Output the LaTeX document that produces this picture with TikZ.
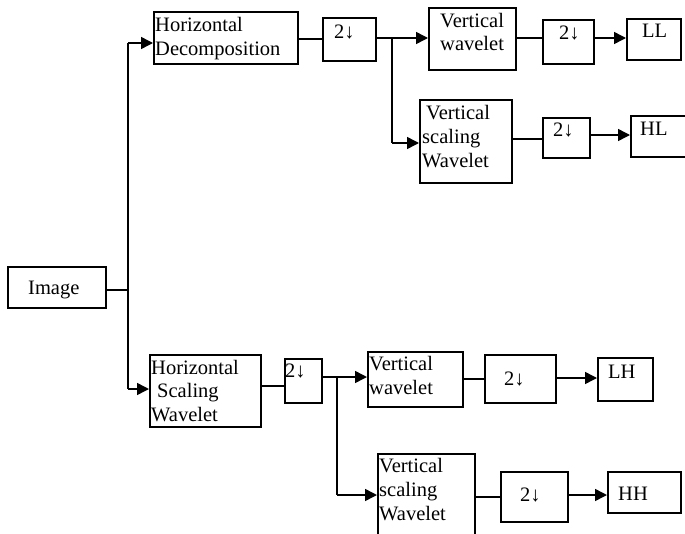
\documentclass[tikz,border=0pt]{standalone}
\usepackage{fontspec}
\setmainfont{Liberation Serif}
\usetikzlibrary{arrows.meta}
\newcommand\mybox[5]{\node[box, minimum width=#4pt, minimum height=#5pt] (#1) at (#2,#3) {};}
\newcommand\lines[1]{\begin{tabular}[t]{@{}l@{}}#1\end{tabular}}
\begin{document}
\begin{tikzpicture}[x=1pt,y=-1pt,
  box/.style={draw, line width=1.5pt, inner sep=0pt, anchor=north west},
  txt/.style={anchor=base west, inner sep=0pt, font=\fontsize{20.5}{23.8}\selectfont},
  ln/.style={line width=1.5pt},
  arr/.style={line width=1.5pt, -{Triangle[length=12pt,width=12pt]}}]
\useasboundingbox (0,0) rectangle (685,533);
\clip (0,0) rectangle (685,533);
% boxes
\mybox{hd}{153}{11}{144}{52}
\mybox{d1}{322}{17}{53}{43}
\mybox{vw1}{428}{7}{87}{62}
\mybox{d2}{542}{19}{51}{44}
\mybox{ll}{626}{18}{54}{41}
\mybox{vs1}{419}{99}{92}{83}
\mybox{d3}{542}{117}{47}{40}
\mybox{hl}{630}{115}{80}{41}
\mybox{img}{7}{266}{98}{41}
\mybox{hsw}{149}{354}{111}{72}
\mybox{d4}{284}{358}{37}{44}
\mybox{vw2}{367}{351}{95}{55}
\mybox{d5}{484}{354}{71}{48}
\mybox{lh}{597}{357}{55}{43}
\mybox{vs2}{377}{453}{97}{100}
\mybox{d6}{500}{471}{67}{50}
\mybox{hh}{607}{471}{73}{41}
% texts
\node[txt] (hd-t) at (155,31.5) {\lines{Horizontal\\Decomposition}};
\node[txt] (d1-t) at (334,38.5) {2↓};
\node[txt] (vw1-t) at (440,27) {\lines{Vertical\\wavelet}};
\node[txt] (d2-t) at (559,39.5) {2↓};
\node[txt] (ll-t) at (642,37.5) {LL};
\node[txt] (vs1-t) at (422,119.5) {\lines{\hspace{4pt}Vertical\\scaling\\Wavelet}};
\node[txt] (d3-t) at (553,136.5) {2↓};
\node[txt] (hl-t) at (640,135) {HL};
\node[txt] (img-t) at (28,294) {Image};
\node[txt] (hsw-t) at (151,374) {\lines{Horizontal\\\hspace{6pt}Scaling\\Wavelet}};
\node[txt] (d4-t) at (285,377.5) {2↓};
\node[txt] (vw2-t) at (369,370.5) {\lines{Vertical\\wavelet}};
\node[txt] (d5-t) at (504,385) {2↓};
\node[txt] (lh-t) at (608,378.5) {LH};
\node[txt] (vs2-t) at (379,472.5) {\lines{Vertical\\scaling\\Wavelet}};
\node[txt] (d6-t) at (520,501.5) {2↓};
\node[txt] (hh-t) at (618,500.5) {HH};
% left tree
\coordinate (jt) at (128,43);
\coordinate (jl) at (128,290);
\coordinate (jb) at (128,389);
\draw[ln] (img.east |- jl) -- (jl);
\draw[ln] (jt) -- (jb);
\draw[arr] (jt) -- (hd.west |- jt);
\draw[arr] (jb) -- (hsw.west |- jb);
% top branch
\coordinate (ya) at (0,39);
\coordinate (yb) at (0,38);
\coordinate (yc) at (0,139);
\coordinate (yd) at (0,135);
\coordinate (b1) at (392,38);
\coordinate (b1b) at (392,143);
\draw[ln] (hd.east |- ya) -- (d1.west |- ya);
\draw[arr] (d1.east |- yb) -- (vw1.west |- yb);
\draw[ln] (b1) -- (b1b);
\draw[arr] (b1b) -- (vs1.west |- b1b);
\draw[ln] (vw1.east |- yb) -- (d2.west |- yb);
\draw[arr] (d2.east |- yb) -- (ll.west |- yb);
\draw[ln] (vs1.east |- yc) -- (d3.west |- yc);
\draw[arr] (d3.east |- yd) -- (hl.west |- yd);
% bottom branch
\coordinate (ye) at (0,386);
\coordinate (yf) at (0,377);
\coordinate (yg) at (0,379);
\coordinate (yh) at (0,378);
\coordinate (yi) at (0,497);
\coordinate (yj) at (0,495);
\coordinate (b2) at (337,376);
\coordinate (b2b) at (337,495);
\draw[ln] (hsw.east |- ye) -- (d4.west |- ye);
\draw[arr] (d4.east |- yf) -- (vw2.west |- yf);
\draw[ln] (b2) -- (b2b);
\draw[arr] (b2b) -- (vs2.west |- b2b);
\draw[ln] (vw2.east |- yg) -- (d5.west |- yg);
\draw[arr] (d5.east |- yh) -- (lh.west |- yh);
\draw[ln] (vs2.east |- yi) -- (d6.west |- yi);
\draw[arr] (d6.east |- yj) -- (hh.west |- yj);
\end{tikzpicture}
\end{document}
